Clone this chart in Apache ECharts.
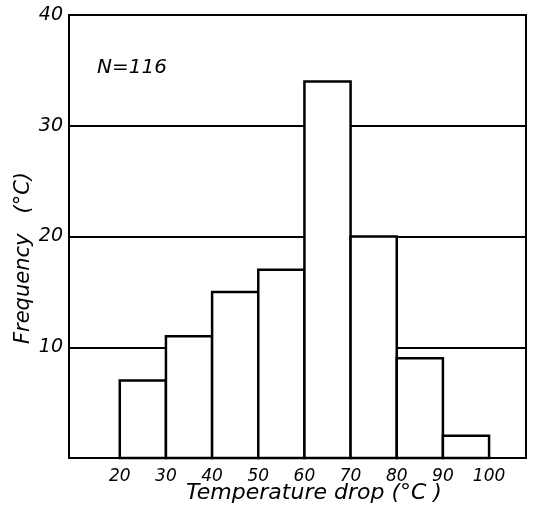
<!DOCTYPE html>
<html><head><meta charset="utf-8">
<script src="https://cdn.jsdelivr.net/npm/echarts@6/dist/echarts.min.js"></script>
<style>html,body{margin:0;padding:0;background:#fff}#c{width:535px;height:512px}</style>
</head><body><div id="c"></div>
<script>
const binStarts = [20, 30, 40, 50, 60, 70, 80, 90];
const binEnds = [30, 40, 50, 60, 70, 80, 90, 100];
const frequencies = [7, 11, 15, 17, 34, 20, 9, 2];
const xTickLabels = [20, 30, 40, 50, 60, 70, 80, 90, 100];
const yTickLabels = [10, 20, 30, 40];
const annotation = 'N=116';
const xTitle = 'Temperature drop (°C )';
const yTitle = 'Frequency   (°C)';

const FONT = '"DejaVu Sans", sans-serif';
const data = binStarts.map((s, i) => [s, binEnds[i], frequencies[i]]);
const chart = echarts.init(document.getElementById('c'), null, {renderer: 'canvas'});
chart.setOption({
  animation: false,
  backgroundColor: '#fff',
  grid: {left: 69, right: 9, top: 15, bottom: 54, show: true, borderColor: '#000', borderWidth: 2, backgroundColor: 'transparent'},
  xAxis: {
    type: 'value', min: 9, max: 108,
    axisLine: {show: false}, axisTick: {show: false}, splitLine: {show: false},
    axisLabel: {customValues: xTickLabels, margin: 10, color: '#000', fontStyle: 'italic', fontSize: 17, fontFamily: FONT}
  },
  yAxis: {
    type: 'value', min: 0, max: 40, interval: 10,
    axisLine: {show: false}, axisTick: {show: false},
    splitLine: {show: true, lineStyle: {color: '#000', width: 1.8}},
    axisLabel: {margin: 6, color: '#000', fontStyle: 'italic', fontSize: 19, fontFamily: FONT,
      formatter: v => yTickLabels.indexOf(v) >= 0 ? String(v) : ''}
  },
  graphic: [
    {type: 'text', left: 97, top: 58, style: {text: annotation, fill: '#000', font: 'italic 20px ' + FONT}},
    {type: 'text', x: 24, y: 258, rotation: Math.PI / 2, style: {text: yTitle, fill: '#000', font: 'italic 21px ' + FONT, align: 'center', verticalAlign: 'middle'}},
    {type: 'text', x: 314, y: 493, style: {text: xTitle, fill: '#000', font: 'italic 22px ' + FONT, align: 'center', verticalAlign: 'middle'}}
  ],
  series: [{
    type: 'custom',
    data: data,
    z: 5,
    renderItem: function (params, api) {
      const p0 = api.coord([api.value(0), 0]);
      const p1 = api.coord([api.value(1), api.value(2)]);
      return {
        type: 'rect',
        shape: {x: p0[0], y: p1[1], width: p1[0] - p0[0], height: p0[1] - p1[1]},
        style: {fill: '#fff', stroke: '#000', lineWidth: 2.5}
      };
    }
  }]
});
</script></body></html>
